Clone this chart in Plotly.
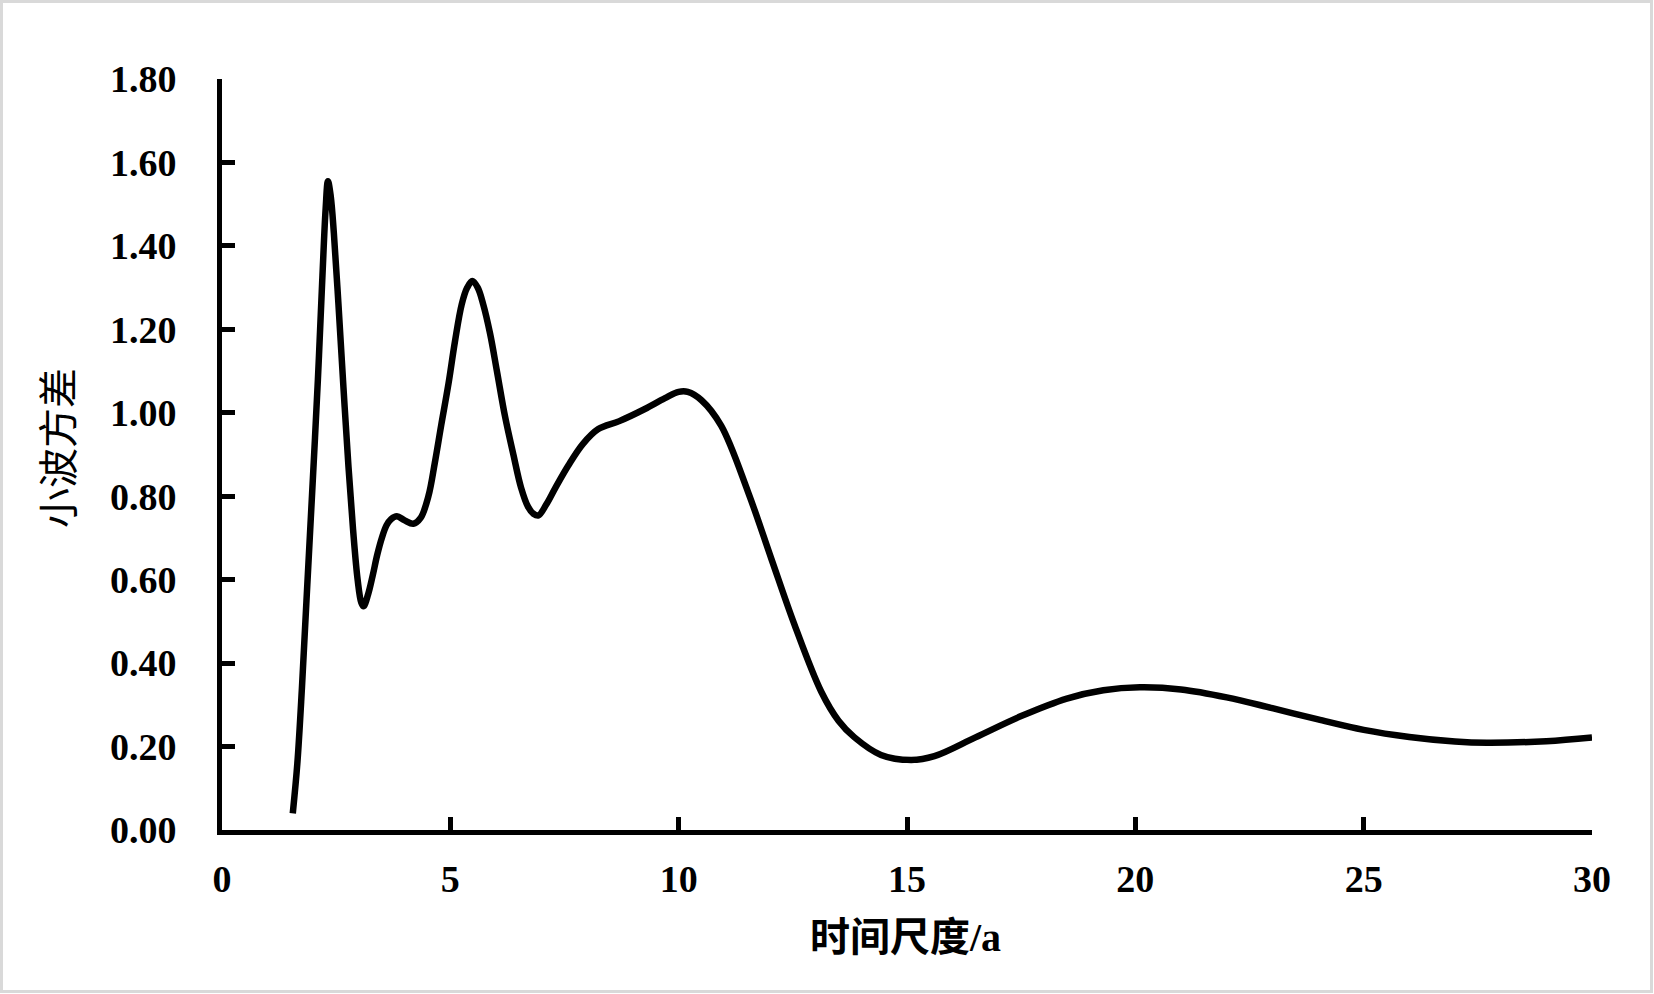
import plotly.graph_objects as go

# Time scale (a)
scale_a = [1.55, 1.65, 1.75, 1.85, 1.97, 2.1, 2.2, 2.27, 2.32, 2.38, 2.45, 2.55, 2.66, 2.77,
           2.87, 2.97, 3.05, 3.1, 3.2, 3.3, 3.4, 3.5, 3.6, 3.7, 3.83, 4.0, 4.19, 4.35, 4.52,
           4.66, 4.8, 4.96, 5.1, 5.25, 5.37, 5.48, 5.6, 5.72, 5.87, 6.02, 6.2, 6.38, 6.55,
           6.7, 6.82, 6.93, 7.1, 7.3, 7.58, 7.9, 8.24, 8.7, 9.26, 9.7, 10.0, 10.2, 10.5,
           10.93, 11.52, 12.03, 12.54, 13.12, 13.5, 13.85, 14.43, 15.09, 15.6, 16.5, 17.5,
           18.5, 19.3, 20.1, 21.0, 22.0, 23.0, 24.0, 25.0, 26.0, 27.0, 27.7, 29.0, 30.0]
# Wavelet variance
variance = [0.04, 0.16, 0.34, 0.55, 0.80, 1.08, 1.33, 1.49, 1.555, 1.52, 1.43, 1.26, 1.06, 0.87,
            0.72, 0.60, 0.545, 0.536, 0.565, 0.61, 0.66, 0.70, 0.73, 0.745, 0.752, 0.742, 0.734, 0.748, 0.80,
            0.88, 0.97, 1.07, 1.17, 1.26, 1.30, 1.316, 1.30, 1.26, 1.19, 1.10, 0.99, 0.90, 0.82,
            0.775, 0.758, 0.754, 0.78, 0.82, 0.873, 0.925, 0.961, 0.98, 1.009, 1.035, 1.05, 1.05, 1.03,
            0.969, 0.81, 0.65, 0.491, 0.332, 0.262, 0.222, 0.18, 0.168, 0.177, 0.222, 0.273,
            0.315, 0.335, 0.342, 0.337, 0.318, 0.292, 0.265, 0.24, 0.223, 0.212, 0.209, 0.213, 0.222]

x_ticks = [0, 5, 10, 15, 20, 25, 30]
y_ticks = [0, 0.2, 0.4, 0.6, 0.8, 1.0, 1.2, 1.4, 1.6, 1.8]
y_tick_text = ["0.00", "0.20", "0.40", "0.60", "0.80", "1.00", "1.20", "1.40", "1.60", "1.80"]

x_title = "时间尺度/a"
y_title = "小波方差"

W, H = 1654, 994
L, R, T, B = 222, 62, 79, 164
pw, ph = W - L - R, H - T - B

fig = go.Figure()
fig.add_trace(go.Scatter(
    x=scale_a, y=variance, mode="lines",
    line=dict(color="black", width=6.5, shape="spline", smoothing=1.0),
    showlegend=False, hoverinfo="x+y"))

tick_font = dict(family="Liberation Serif, Times New Roman, serif", size=38, color="black")

fig.update_xaxes(
    range=[0, 30], tickvals=x_ticks, ticktext=[f"<b>{v}</b>" for v in x_ticks],
    showgrid=False, zeroline=False, showline=True, linecolor="black", linewidth=5,
    ticks="inside", ticklen=13, tickwidth=4.5, tickcolor="black",
    tickfont=tick_font, ticklabelstandoff=11)
fig.update_yaxes(
    range=[0, 1.8], tickvals=y_ticks, ticktext=[f"<b>{t}</b>" for t in y_tick_text],
    showgrid=False, zeroline=False, showline=True, linecolor="black", linewidth=5,
    ticks="inside", ticklen=13, tickwidth=4.5, tickcolor="black",
    tickfont=tick_font, ticklabelstandoff=33)

fig.add_annotation(
    xref="paper", yref="paper", x=(905 - L) / pw, y=(T + ph - 937) / ph,
    text=f"<b>{x_title}</b>", showarrow=False, xanchor="center", yanchor="middle",
    font=dict(family="Liberation Serif, Noto Sans CJK SC, serif", size=40, color="black"))
fig.add_annotation(
    xref="paper", yref="paper", x=(56 - L) / pw, y=(T + ph - 448) / ph,
    text=y_title, showarrow=False, textangle=-90, xanchor="center", yanchor="middle",
    font=dict(family="Noto Sans CJK SC, sans-serif", size=40, color="black"))

# outer light border
fig.add_shape(type="rect", xref="paper", yref="paper",
              x0=(1.5 - L) / pw, x1=(W - 2.5 - L) / pw,
              y0=(T + ph - (H - 2.5)) / ph, y1=(T + ph - 1.5) / ph,
              line=dict(color="#d9d9d9", width=3), fillcolor="rgba(0,0,0,0)", layer="below")

fig.update_layout(
    width=W, height=H, autosize=False,
    margin=dict(l=L, r=R, t=T, b=B, pad=0),
    paper_bgcolor="white", plot_bgcolor="white")

fig.write_html("out.html", config={"displayModeBar": False},
               post_script="document.body.style.margin='0';document.body.style.overflow='hidden';")
